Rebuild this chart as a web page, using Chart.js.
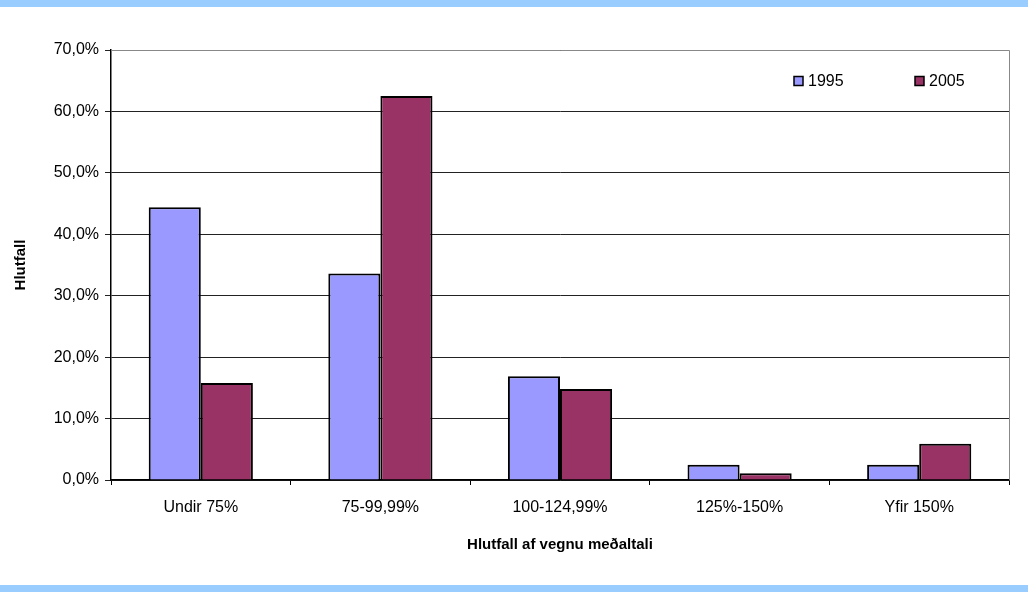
<!DOCTYPE html>
<html>
<head>
<meta charset="utf-8">
<script src="https://cdn.jsdelivr.net/npm/chart.js@4/dist/chart.umd.min.js"></script>
<style>
  html, body { margin: 0; padding: 0; background: #fff; }
  #wrap { width: 1028px; height: 592px; position: relative; }
</style>
</head>
<body>
<div id="wrap"><canvas id="grafico"></canvas></div>
<script>
const categorias = ['Undir 75%', '75-99,99%', '100-124,99%', '125%-150%', 'Yfir 150%'];
const ano1995 = [44.4, 33.6, 16.9, 2.5, 2.5];
const ano2005 = [15.8, 62.5, 14.8, 1.1, 5.9];
const rotulos = ['1995', '2005'];

const FONTE = '"Liberation Sans", Arial, sans-serif';

// fundo branco com faixas azuis em cima e embaixo
const fundo = {
  id: 'fundo',
  beforeDraw(chart) {
    const { ctx, width, height } = chart;
    ctx.save();
    ctx.fillStyle = '#fff';
    ctx.fillRect(0, 0, width, height);
    ctx.fillStyle = '#99ccff';
    ctx.fillRect(0, 0, width, 7);
    ctx.fillRect(0, height - 7, width, 7);
    ctx.restore();
  }
};

// borda cinza do plot (topo e direita) + legenda dentro da área
const moldura = {
  id: 'moldura',
  afterDraw(chart) {
    const { ctx, chartArea: a } = chart;
    ctx.save();
    ctx.strokeStyle = '#888';
    ctx.lineWidth = 1;
    ctx.beginPath();
    ctx.moveTo(a.left, a.top + 0.5);
    ctx.lineTo(a.right + 0.5, a.top + 0.5);
    ctx.lineTo(a.right + 0.5, a.bottom);
    ctx.stroke();

    // legenda
    const posX = [a.left + 683, a.left + 804];
    ctx.font = '16px ' + FONTE;
    ctx.textBaseline = 'middle';
    chart.data.datasets.forEach((ds, i) => {
      const x = posX[i], y = 81;
      ctx.fillStyle = ds.backgroundColor;
      ctx.fillRect(x, y - 4.5, 9, 9);
      ctx.strokeStyle = '#000';
      ctx.lineWidth = 1.5;
      ctx.strokeRect(x, y - 4.5, 9, 9);
      ctx.fillStyle = '#000';
      ctx.fillText(ds.label, x + 14, y + 1);
    });
    ctx.restore();
  }
};

new Chart(document.getElementById('grafico'), {
  type: 'bar',
  data: {
    labels: categorias,
    datasets: [
      { label: rotulos[0], data: ano1995, backgroundColor: '#9999ff', borderColor: '#000', borderWidth: 2 },
      { label: rotulos[1], data: ano2005, backgroundColor: '#993366', borderColor: '#000', borderWidth: 2 }
    ]
  },
  options: {
    responsive: true,
    maintainAspectRatio: false,
    animation: false,
    layout: { padding: { top: 50, right: 19, bottom: 34, left: 0 } },
    datasets: { bar: { categoryPercentage: 0.58, barPercentage: 1 } },
    plugins: {
      legend: { display: false },
      tooltip: { enabled: false }
    },
    scales: {
      x: {
        grid: { offset: true, drawOnChartArea: false, drawTicks: true, tickLength: 5, color: '#000' },
        border: { color: '#000', width: 1.5 },
        ticks: { color: '#000', font: { family: FONTE, size: 16 }, padding: 13 },
        title: { display: true, text: 'Hlutfall af vegnu meðaltali', color: '#000',
                 font: { family: FONTE, size: 15, weight: 'bold' }, padding: { top: 12 } },
        afterFit(scale) { scale.height = 78; }
      },
      y: {
        min: 0, max: 70,
        ticks: { stepSize: 10, color: '#000', font: { family: FONTE, size: 16 }, padding: 6,
                 callback: v => v.toFixed(1).replace('.', ',') + '%' },
        grid: { color: '#222', lineWidth: 1, drawTicks: true, tickLength: 6 },
        border: { color: '#000', width: 1.5 },
        title: { display: true, text: 'Hlutfall', color: '#000',
                 font: { family: FONTE, size: 15, weight: 'bold' }, padding: { top: 12 } },
        afterFit(scale) { scale.width = 111; }
      }
    }
  },
  plugins: [fundo, moldura]
});
</script>
</body>
</html>
